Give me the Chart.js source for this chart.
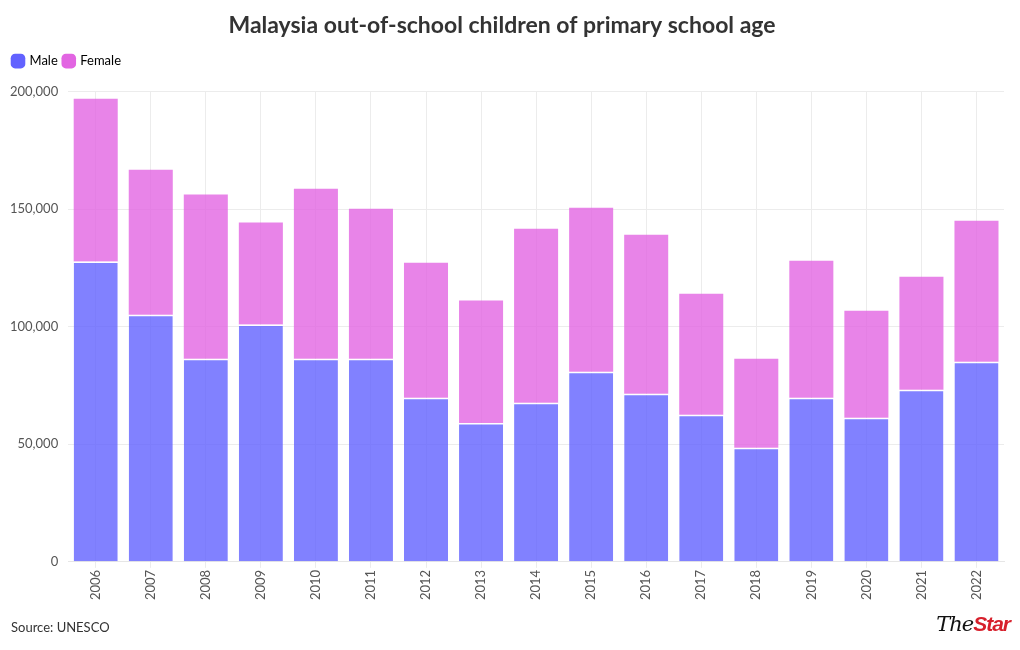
<!DOCTYPE html>
<html>
<head>
<meta charset="utf-8">
<script src="https://cdn.jsdelivr.net/npm/chart.js@4.4.1/dist/chart.umd.min.js"></script>
<style>
  html, body { margin: 0; padding: 0; background: #fff; }
  #wrap { position: relative; width: 1020px; height: 650px; }
  #source {
    position: absolute; left: 11px; top: 619px;
    font: 13px Lato, sans-serif; color: #333;
  }
  #logo {
    position: absolute; right: 10px; top: 612px;
    font-family: "DejaVu Serif", serif; font-style: italic; font-size: 21px;
    letter-spacing: -1px;
  }
  #logo .the { color: #111; font-weight: normal; }
  #logo .star { color: #d7202c; font-weight: bold; font-family: "Liberation Sans", sans-serif; }
</style>
</head>
<body>
<div id="wrap">
  <canvas id="chart" width="1020" height="650"></canvas>
  <div id="source">Source: UNESCO</div>
  <div id="logo"><span class="the">The</span><span class="star">Star</span></div>
</div>
<script>
// Categories and series
const years = ["2006", "2007", "2008", "2009", "2010", "2011", "2012", "2013", "2014",
  "2015", "2016", "2017", "2018", "2019", "2020", "2021", "2022"];
const male = [127700, 105100, 86400, 100900, 86400, 86400, 69800, 59100, 67700,
  80900, 71500, 62600, 48500, 69800, 61300, 73200, 85100];
const female = [69300, 61700, 69800, 43400, 72300, 63800, 57400, 52000, 74000,
  69700, 67600, 51400, 37900, 58300, 45500, 48100, 60000];
const yTicks = [0, 50000, 100000, 150000, 200000];

const maleColor = "rgb(98, 98, 255)";
const femaleColor = "rgb(226, 101, 226)";

// extra space between legend and plot area, and a small left inset
const legendGap = {
  id: "legendGap",
  beforeInit(chart) {
    const fit = chart.legend.fit;
    chart.legend.fit = function () {
      fit.bind(chart.legend)();
      this.height += 14;
    };
  },
  afterLayout(chart) {
    chart.legend.left += 7;
    chart.legend.right += 7;
  },
};

const ctx = document.getElementById("chart").getContext("2d");
new Chart(ctx, {
  type: "bar",
  data: {
    labels: years,
    datasets: [
      {
        label: "Male",
        data: male,
        backgroundColor: "rgba(98, 98, 255, 0.8)",
        borderColor: "#fff",
        borderWidth: { top: 1.5, left: 0, right: 0, bottom: 0 },
        borderSkipped: false,
        barPercentage: 0.8,
        categoryPercentage: 1,
      },
      {
        label: "Female",
        data: female,
        backgroundColor: "rgba(226, 101, 226, 0.8)",
        borderColor: "#fff",
        borderWidth: 0,
        barPercentage: 0.8,
        categoryPercentage: 1,
      },
    ],
  },
  plugins: [legendGap],
  options: {
    responsive: false,
    animation: false,
    layout: { padding: { left: 0, right: 16, top: 4, bottom: 48 } },
    plugins: {
      title: {
        display: true,
        text: "Malaysia out-of-school children of primary school age",
        color: "#333",
        font: { family: "Lato", size: 23, weight: "bold" },
        padding: { top: 8, bottom: 9 },
      },
      legend: {
        position: "top",
        align: "start",
        labels: {
          usePointStyle: true,
          pointStyle: "rectRounded",
          boxWidth: 10,
          boxHeight: 12,
          padding: 6,
          color: "#333",
          font: { family: "Lato", size: 13 },
          generateLabels: (chart) => [
            { text: "Male", fillStyle: maleColor, strokeStyle: maleColor, lineWidth: 0, pointStyle: "rectRounded", datasetIndex: 0 },
            { text: "Female", fillStyle: femaleColor, strokeStyle: femaleColor, lineWidth: 0, pointStyle: "rectRounded", datasetIndex: 1 },
          ],
        },
      },
      tooltip: { enabled: false },
    },
    scales: {
      x: {
        stacked: true,
        grid: { offset: false, color: "#ececec", drawTicks: true, tickLength: 6 },
        border: { color: "#e6e6e6" },
        ticks: {
          color: "#555",
          font: { family: "Lato", size: 13 },
          maxRotation: 90,
          minRotation: 90,
          padding: 2,
        },
      },
      y: {
        stacked: true,
        min: 0,
        max: 200000,
        afterBuildTicks: (axis) => {
          axis.ticks = yTicks.map((v) => ({ value: v }));
        },
        grid: { color: "#ececec", drawTicks: false },
        border: { display: false },
        ticks: {
          color: "#555",
          padding: 10,
          font: { family: "Lato", size: 13 },
          callback: (v) => v.toLocaleString("en-US"),
        },
      },
    },
  },
});
</script>
</body>
</html>
